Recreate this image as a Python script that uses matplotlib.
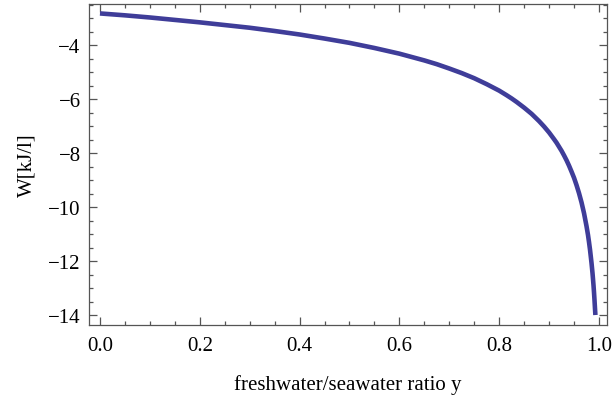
import matplotlib
matplotlib.use('Agg')
import matplotlib.pyplot as plt
from matplotlib.ticker import MultipleLocator, FormatStrFormatter

# values
ratio = [0.0, 0.05, 0.1, 0.15, 0.2, 0.25, 0.3, 0.35, 0.4, 0.45, 0.5, 0.55,
         0.6, 0.65, 0.675, 0.7, 0.725, 0.75, 0.775, 0.8, 0.815, 0.825, 0.835,
         0.85, 0.865, 0.875, 0.88, 0.89, 0.895, 0.9, 0.91, 0.915, 0.92, 0.925,
         0.93, 0.935, 0.94, 0.945, 0.95, 0.955, 0.96, 0.965, 0.97, 0.975,
         0.978, 0.98, 0.982, 0.985, 0.987, 0.988, 0.989, 0.99, 0.991, 0.992,
         0.9928]
work = [-2.83, -2.90, -2.98, -3.07, -3.16, -3.26, -3.36, -3.48, -3.61, -3.76,
        -3.92, -4.11, -4.32, -4.57, -4.71, -4.87, -5.04, -5.23, -5.45, -5.69,
        -5.86, -5.98, -6.11, -6.32, -6.55, -6.73, -6.82, -7.02, -7.13, -7.24,
        -7.49, -7.62, -7.77, -7.92, -8.09, -8.27, -8.47, -8.69, -8.92, -9.19,
        -9.49, -9.83, -10.23, -10.71, -11.04, -11.30, -11.58, -12.07, -12.45,
        -12.67, -12.90, -13.16, -13.45, -13.77, -14.00]

plt.rcParams['font.family'] = ['Liberation Serif', 'DejaVu Serif']
plt.rcParams['font.size'] = 15

fig = plt.figure(figsize=(6.12, 4.02), dpi=100)
ax = fig.add_axes([0.1454, 0.189, 0.9918 - 0.1454, 0.9876 - 0.189])

ax.plot(ratio, work, color='#3f3d99', linewidth=3.3, solid_capstyle='butt',
        solid_joinstyle='round')

ax.set_xlim(-0.022, 1.016)
ax.set_ylim(-14.37, -2.48)
ax.xaxis.set_major_locator(MultipleLocator(0.2))
ax.xaxis.set_minor_locator(MultipleLocator(0.05))
ax.yaxis.set_major_locator(MultipleLocator(2))
ax.yaxis.set_minor_locator(MultipleLocator(0.5))
ax.xaxis.set_major_formatter(FormatStrFormatter('%.1f'))

ax.tick_params(which='both', direction='in', top=True, right=True,
               color='#555555', width=0.9)
ax.tick_params(which='major', length=6, pad=8)
ax.tick_params(which='minor', length=3)
ax.tick_params(axis='y', which='major', pad=6)
for s in ax.spines.values():
    s.set_color('#555555')
    s.set_linewidth(0.9)

ax.set_xlabel('freshwater/seawater ratio y', labelpad=14)
ax.set_ylabel('W[kJ/l]', labelpad=8)

plt.savefig('out.png', dpi=100)
